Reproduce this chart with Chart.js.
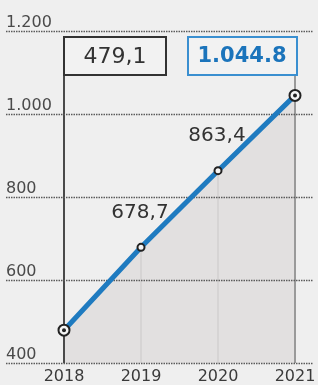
<!DOCTYPE html>
<html>
<head>
<meta charset="utf-8">
<script src="https://cdn.jsdelivr.net/npm/chart.js@4"></script>
<style>
  html, body { margin: 0; padding: 0; background: #efefef; }
  #wrap { width: 318px; height: 385px; position: relative; }
</style>
</head>
<body>
<div id="wrap"><canvas id="chart"></canvas></div>
<script>
const years = ["2018", "2019", "2020", "2021"];
const values = [479.1, 678.7, 863.4, 1044.8];
const valueLabels = ["479,1", "678,7", "863,4", "1.044.8"];
const yTicks = [400, 600, 800, 1000, 1200];
const yTickLabels = ["400", "600", "800", "1.000", "1.200"];

const FONT = "'DejaVu Sans', sans-serif";
const BLUE = "#1f7bc0";

const overlay = {
  id: "overlay",
  beforeDatasetsDraw(chart) {
    const { ctx, scales: { x, y } } = chart;
    const bottom = y.getPixelForValue(400);
    const boxBottom = 75;
    ctx.save();
    // vertical year lines
    years.forEach((yr, i) => {
      const px = x.getPixelForValue(i);
      ctx.beginPath();
      if (i === 0) {
        ctx.strokeStyle = "#4a4a4a";
        ctx.lineWidth = 2;
        ctx.moveTo(px, boxBottom);
      } else if (i === years.length - 1) {
        ctx.strokeStyle = "#9a9a9a";
        ctx.lineWidth = 2;
        ctx.moveTo(px, boxBottom);
      } else {
        ctx.strokeStyle = "#d2d0d0";
        ctx.lineWidth = 1.5;
        ctx.moveTo(px, y.getPixelForValue(values[i]));
      }
      ctx.lineTo(px, bottom);
      ctx.stroke();
    });
    // dotted grid lines and their labels
    ctx.setLineDash([1.5, 1]);
    ctx.strokeStyle = "#5a5a5a";
    ctx.lineWidth = 1.5;
    ctx.fillStyle = "#4a4a4a";
    ctx.font = "16px " + FONT;
    ctx.textAlign = "left";
    ctx.textBaseline = "alphabetic";
    yTicks.forEach((t, i) => {
      const py = Math.round(y.getPixelForValue(t)) + 0.5;
      ctx.beginPath();
      ctx.moveTo(6, py);
      ctx.lineTo(313, py);
      ctx.stroke();
      ctx.fillText(yTickLabels[i], 6, py - 5);
    });
    ctx.restore();
  },
  afterDatasetsDraw(chart) {
    const { ctx, scales: { x, y } } = chart;
    const meta = chart.getDatasetMeta(0);
    ctx.save();
    // centre dots on the end points
    [0, values.length - 1].forEach(i => {
      const p = meta.data[i];
      ctx.beginPath();
      ctx.fillStyle = "#222";
      ctx.arc(p.x, p.y, 2, 0, Math.PI * 2);
      ctx.fill();
    });
    // boxes for first and last values
    const x0 = x.getPixelForValue(0);
    const x3 = x.getPixelForValue(3);
    ctx.lineWidth = 2;
    ctx.fillStyle = "#f2f2f2";
    ctx.fillRect(x0, 37, 102, 38);
    ctx.strokeStyle = "#333";
    ctx.strokeRect(x0, 37, 102, 38);
    ctx.fillRect(x3 - 107, 37, 109, 38);
    ctx.strokeStyle = "#3a8fd0";
    ctx.strokeRect(x3 - 107, 37, 109, 38);
    ctx.textAlign = "center";
    ctx.textBaseline = "middle";
    ctx.fillStyle = "#333";
    ctx.font = "22px " + FONT;
    ctx.fillText(valueLabels[0], x0 + 51, 57);
    ctx.fillStyle = "#1b74bb";
    ctx.font = "bold 21px " + FONT;
    ctx.fillText(valueLabels[3], x3 - 53, 57);
    // middle value labels
    ctx.fillStyle = "#333";
    ctx.font = "20px " + FONT;
    [1, 2].forEach(i => {
      const p = meta.data[i];
      ctx.fillText(valueLabels[i], p.x - 1, p.y - 35);
    });
    ctx.restore();
  }
};

new Chart(document.getElementById("chart"), {
  type: "line",
  data: {
    labels: years,
    datasets: [{
      data: values,
      borderColor: BLUE,
      borderWidth: 5,
      backgroundColor: "#e2e0e0",
      fill: "start",
      tension: 0,
      clip: false,
      pointRadius: [5.5, 3.5, 3.5, 5.5],
      pointBorderWidth: 2,
      pointBorderColor: "#222",
      pointBackgroundColor: "#f5f5f5"
    }]
  },
  options: {
    responsive: true,
    maintainAspectRatio: false,
    animation: false,
    layout: { padding: { left: 64, right: 23, top: 31, bottom: -6 } },
    plugins: {
      legend: { display: false },
      tooltip: { enabled: false },
      filler: { drawTime: "beforeDatasetsDraw" }
    },
    scales: {
      x: {
        grid: { display: false, drawTicks: false, tickLength: 0 },
        border: { display: false },
        afterFit(scale) {
          scale.paddingLeft = 0;
          scale.paddingRight = 0;
        },
        ticks: {
          color: "#3a3a3a",
          font: { family: FONT, size: 16, lineHeight: 1 },
          padding: 6,
          maxRotation: 0
        }
      },
      y: {
        display: false,
        min: 400,
        max: 1200
      }
    }
  },
  plugins: [overlay]
});
</script>
</body>
</html>
